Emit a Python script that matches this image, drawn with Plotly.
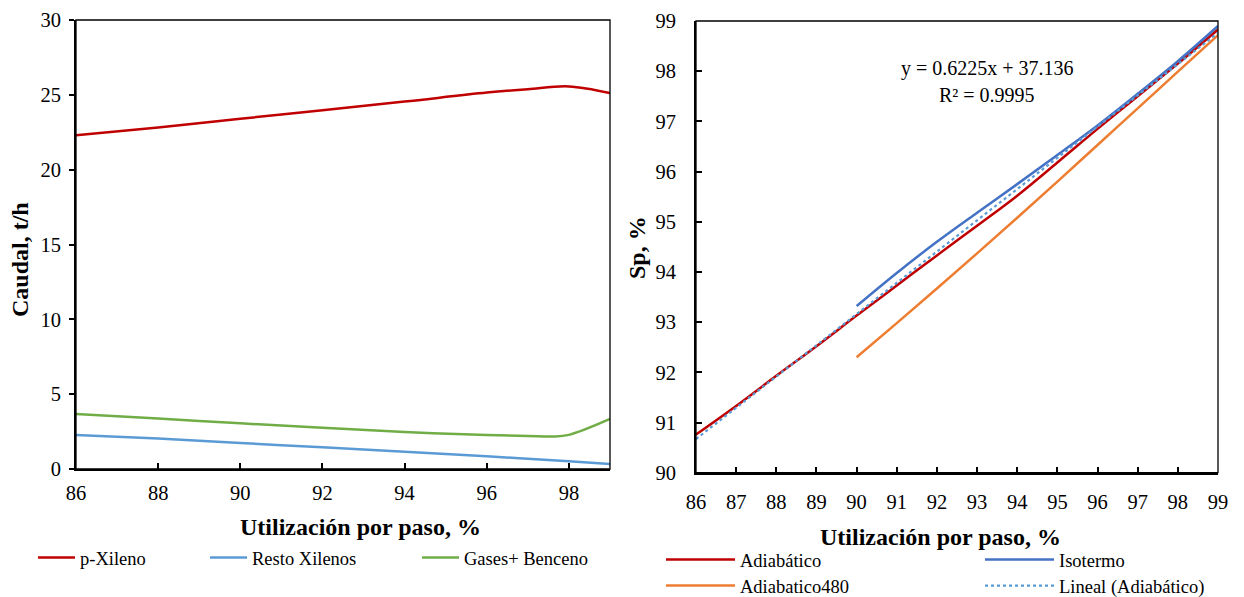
import plotly.graph_objects as go

# ---- Left panel: flow rates vs. per-pass utilisation ----
x_pxil = [86, 88, 90, 92, 94, 96, 97, 98, 99]
y_pxil = [22.3, 22.82, 23.4, 23.97, 24.55, 25.15, 25.38, 25.56, 25.12]

x_resto = [86, 88, 90, 92, 94, 96, 98, 99]
y_resto = [2.27, 2.03, 1.74, 1.45, 1.16, 0.85, 0.51, 0.33]

x_gases = [86, 88, 90, 92, 94, 96, 97, 97.6, 98, 99]
y_gases = [3.67, 3.38, 3.05, 2.76, 2.47, 2.27, 2.21, 2.17, 2.28, 3.34]

# ---- Right panel: selectivity vs. per-pass utilisation ----
x_adiab = [86, 87, 88, 89, 90, 91, 92, 93, 94, 95, 96, 97, 98, 99]
y_adiab = [90.76, 91.33, 91.93, 92.52, 93.13, 93.73, 94.33, 94.92, 95.52,
           96.18, 96.85, 97.5, 98.15, 98.83]

x_iso = [90, 91, 92, 93, 94, 95, 96, 97, 98, 99]
y_iso = [93.32, 93.98, 94.6, 95.18, 95.75, 96.33, 96.92, 97.55, 98.2, 98.9]

x_ad480 = [90, 91, 92, 93, 94, 95, 96, 97, 98, 99]
y_ad480 = [92.3, 92.98, 93.67, 94.37, 95.08, 95.8, 96.53, 97.26, 97.99, 98.72]

# linear trend of the adiabatic series, as printed on the chart
trend_slope = 0.6225
trend_intercept = 37.136
trend_r2 = 0.9995
trend_x = [86, 99]
trend_y = [trend_slope * v + trend_intercept for v in trend_x]

SERIF = "Liberation Serif"
TICK = dict(family=SERIF, size=20.5, color="black")
LEG = dict(family=SERIF, size=18.5, color="black")

fig = go.Figure()

fig.add_trace(go.Scatter(x=x_pxil, y=y_pxil, name="p-Xileno", mode="lines",
                         line=dict(color="#C00000", width=2.5, shape="spline"),
                         xaxis="x", yaxis="y", legend="legend"))
fig.add_trace(go.Scatter(x=x_resto, y=y_resto, name="Resto Xilenos", mode="lines",
                         line=dict(color="#5B9BD5", width=2.5, shape="spline"),
                         xaxis="x", yaxis="y", legend="legend2"))
fig.add_trace(go.Scatter(x=x_gases, y=y_gases, name="Gases+ Benceno", mode="lines",
                         line=dict(color="#70AD47", width=2.5, shape="spline"),
                         xaxis="x", yaxis="y", legend="legend3"))

fig.add_trace(go.Scatter(x=x_adiab, y=y_adiab, name="Adiabático", mode="lines",
                         line=dict(color="#C00000", width=2.5, shape="spline"),
                         xaxis="x2", yaxis="y2", legend="legend4"))
fig.add_trace(go.Scatter(x=x_iso, y=y_iso, name="Isotermo", mode="lines",
                         line=dict(color="#4472C4", width=2.5, shape="spline"),
                         xaxis="x2", yaxis="y2", legend="legend5"))
fig.add_trace(go.Scatter(x=x_ad480, y=y_ad480, name="Adiabatico480", mode="lines",
                         line=dict(color="#ED7D31", width=2.5, shape="spline"),
                         xaxis="x2", yaxis="y2", legend="legend6"))
fig.add_trace(go.Scatter(x=trend_x, y=trend_y, name="Lineal (Adiabático)", mode="lines",
                         line=dict(color="#5B9BD5", width=2.2, dash="dot"),
                         xaxis="x2", yaxis="y2", legend="legend7"))

axis_common = dict(showgrid=False, zeroline=False, showline=True, linecolor="black",
                   linewidth=2, tickcolor="black", tickwidth=1.5, tickfont=TICK,
                   automargin=False)

W, H = 1244, 597


def hx(px):
    return px / W


def vy(py):
    return 1 - py / H


def leg(x0, y0, iw):
    return dict(orientation="h", x=hx(x0), y=vy(y0), xanchor="left", yanchor="middle",
                font=LEG, bgcolor="rgba(0,0,0,0)", itemwidth=iw, tracegroupgap=0,
                borderwidth=0, itemclick=False, itemdoubleclick=False)


fig.update_layout(
    template="none",
    width=W, height=H,
    margin=dict(l=0, r=0, t=0, b=0, autoexpand=False),
    paper_bgcolor="white", plot_bgcolor="white",
    showlegend=True,
    xaxis=dict(axis_common, domain=[hx(76), hx(610)], range=[86, 99], dtick=2, tick0=86,
               ticks="inside", ticklen=6, anchor="y", ticklabelstandoff=4),
    yaxis=dict(axis_common, domain=[vy(469), vy(20)], range=[0, 30], dtick=5,
               ticks="outside", ticklen=5, anchor="x", ticklabelstandoff=4),
    xaxis2=dict(axis_common, domain=[hx(696), hx(1218)], range=[86, 99], dtick=1, tick0=86,
                ticks="inside", ticklen=6, anchor="y2", ticklabelstandoff=10),
    yaxis2=dict(axis_common, domain=[vy(472.7), vy(21)], range=[90, 99], dtick=1,
                ticks="inside", ticklen=6, anchor="x2", ticklabelstandoff=14),
    legend=leg(33, 558, 37),
    legend2=leg(205, 558, 37),
    legend3=leg(417, 558, 37),
    legend4=leg(661, 560, 69),
    legend5=leg(980, 560, 69),
    legend6=leg(661, 586, 69),
    legend7=leg(980, 586, 69),
)

# thin frame around each plot area
for xr, yr in (("x domain", "y domain"), ("x2 domain", "y2 domain")):
    fig.add_shape(type="rect", xref=xr, yref=yr, x0=0, x1=1, y0=0, y1=1,
                  line=dict(color="black", width=1.3), layer="above")


def label(text, px, py, font, angle=0):
    fig.add_annotation(text=text, x=hx(px), y=vy(py), xref="paper", yref="paper",
                       xanchor="center", yanchor="middle", textangle=angle,
                       showarrow=False, font=font)


TITLE = dict(family=SERIF, size=24, color="black")
label("<b>Utilización por paso, %</b>", 360, 527, TITLE)
label("<b>Utilización por paso, %</b>", 940, 537, TITLE)
label("<b>Caudal, t/h</b>", 20, 260, TITLE, -90)
label("<b>Sp, %</b>", 637, 248, TITLE, -90)

eq_font = dict(family=SERIF, size=20, color="black")
label(f"y = {trend_slope}x + {trend_intercept}", 987, 68, eq_font)
label(f"R² = {trend_r2}", 987, 95, eq_font)

fig.write_html("out.html")
